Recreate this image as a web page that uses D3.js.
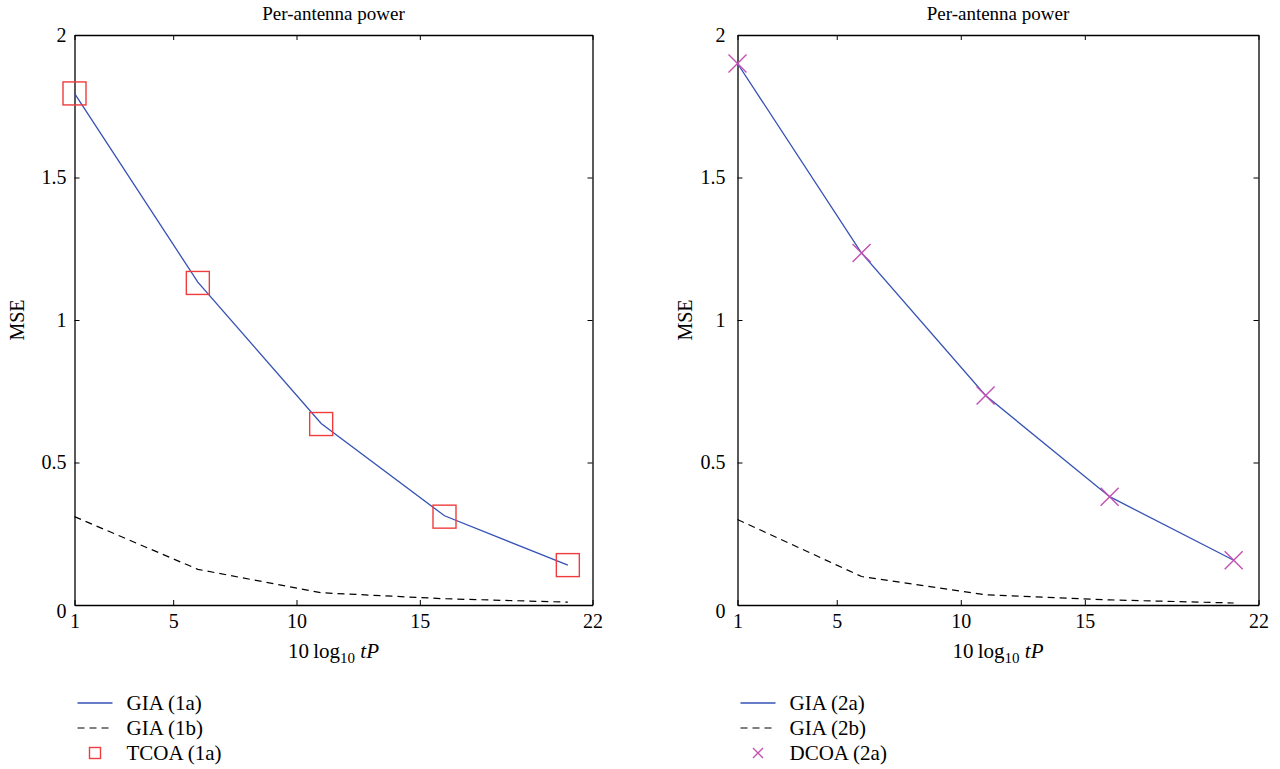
<!DOCTYPE html>
<html>
<head>
<meta charset="utf-8">
<script src="https://cdn.jsdelivr.net/npm/d3@7"></script>
<style>
  body { margin: 0; background: #fff; }
  svg text { font-family: "Liberation Serif", "DejaVu Serif", serif; fill: #000; }
</style>
</head>
<body>
<svg class="chart" width="1280" height="769"></svg>
<script>
const xValues = [1, 6, 11, 16, 21];
const xTicks = [1, 5, 10, 15, 22];
const yTicks = [0, 0.5, 1, 1.5, 2];

const gia1a = [1.795, 1.133, 0.637, 0.313, 0.14];
const gia1b = [0.31, 0.125, 0.043, 0.022, 0.01];
const tcoa1a = [1.795, 1.13, 0.635, 0.31, 0.14];

const gia2a = [1.9, 1.235, 0.735, 0.38, 0.157];
const gia2b = [0.3, 0.1, 0.036, 0.018, 0.007];
const dcoa2a = [1.9, 1.235, 0.735, 0.38, 0.157];

const blue = "#3652b5";
const red = "#f03c3c";
const magenta = "#c24fb3";

const svg = d3.select(".chart");

const render = (g, opts) => {
  const left = opts.left;
  const right = opts.right;
  const top = 35;
  const bottom = 605;

  const x = d3.scaleLinear().domain([1, 22]).range([left, right]);
  const y = d3.scaleLinear().domain([0, 2]).range([bottom, top]);

  g.append("text")
    .attr("x", (left + right) / 2)
    .attr("y", 20)
    .attr("text-anchor", "middle")
    .attr("font-size", "19px")
    .text("Per-antenna power");

  // axes, ticks drawn inward on all four sides
  g.append("g")
    .attr("transform", "translate(0," + bottom + ")")
    .call(d3.axisBottom(x).tickValues(xTicks).tickSize(-5).tickSizeOuter(0).tickPadding(9));
  g.append("g")
    .attr("transform", "translate(0," + top + ")")
    .call(d3.axisTop(x).tickValues(xTicks).tickSize(-5).tickSizeOuter(0).tickFormat(""));
  const yAxis = g.append("g")
    .attr("transform", "translate(" + left + ",0)")
    .call(d3.axisLeft(y).tickValues(yTicks).tickSize(-5).tickSizeOuter(0).tickPadding(opts.yPad).tickFormat(d3.format("")));
  g.append("g")
    .attr("transform", "translate(" + right + ",0)")
    .call(d3.axisRight(y).tickValues(yTicks).tickSize(-5).tickSizeOuter(0).tickFormat(""));

  g.selectAll(".domain").attr("stroke", "#000").attr("stroke-width", 1.3);
  g.selectAll(".tick line").attr("stroke", "#000");
  g.selectAll(".tick text")
    .attr("font-size", "20px")
    .attr("fill", "#000");
  yAxis.selectAll(".tick text").filter((d) => d === 0).attr("dy", "0.62em");

  // y label
  g.append("text")
    .attr("transform", "translate(" + opts.ylabelX + "," + (top + bottom) / 2 + ") rotate(-90)")
    .attr("text-anchor", "middle")
    .attr("font-size", "20px")
    .text("MSE");

  // x label: 10 log10 tP
  const xl = g.append("text")
    .attr("x", (left + right) / 2)
    .attr("y", 658)
    .attr("text-anchor", "middle")
    .attr("font-size", "21px");
  xl.append("tspan").text("10\u2009log");
  xl.append("tspan").attr("font-size", "15px").attr("dy", 5).text("10");
  xl.append("tspan").attr("dy", -5).attr("font-style", "italic").text(" tP");

  const line = d3.line().x((d) => x(d.x)).y((d) => y(d.y));
  const pts = (vals) => vals.map((v, i) => ({ x: xValues[i], y: v }));

  g.append("path")
    .datum(pts(opts.solid))
    .attr("fill", "none")
    .attr("stroke", blue)
    .attr("stroke-width", 1.3)
    .attr("d", line);

  g.append("path")
    .datum(pts(opts.dashed))
    .attr("fill", "none")
    .attr("stroke", "#000")
    .attr("stroke-width", 1.2)
    .attr("stroke-dasharray", "7,5")
    .attr("d", line);

  const marks = g.append("g");
  pts(opts.markers).forEach((d) => {
    drawMarker(marks, opts.marker, x(d.x), y(d.y), opts.marker === "square" ? 23 : 18);
  });

  // legend
  const legend = g.append("g");
  const lx0 = left + 3;
  const lx1 = left + 38;
  const rows = [703, 728, 753];
  legend.append("line")
    .attr("x1", lx0).attr("x2", lx1).attr("y1", rows[0]).attr("y2", rows[0])
    .attr("stroke", blue).attr("stroke-width", 1.3);
  legend.append("line")
    .attr("x1", lx0).attr("x2", lx1).attr("y1", rows[1]).attr("y2", rows[1])
    .attr("stroke", "#000").attr("stroke-width", 1.2).attr("stroke-dasharray", "7,5");
  drawMarker(legend, opts.marker, (lx0 + lx1) / 2, rows[2], opts.marker === "square" ? 11 : 10);

  legend.selectAll("text.lab")
    .data(opts.labels)
    .enter()
    .append("text")
    .attr("class", "lab")
    .attr("x", left + 52)
    .attr("y", (d, i) => rows[i])
    .attr("dy", "0.35em")
    .attr("font-size", "21px")
    .text((d) => d);
};

function drawMarker(g, type, cx, cy, s) {
  if (type === "square") {
    g.append("rect")
      .attr("x", cx - s / 2).attr("y", cy - s / 2)
      .attr("width", s).attr("height", s)
      .attr("fill", "none").attr("stroke", red).attr("stroke-width", 1.4);
  } else {
    const h = s / 2;
    g.append("path")
      .attr("d", "M" + (cx - h) + "," + (cy - h) + "L" + (cx + h) + "," + (cy + h) +
        "M" + (cx - h) + "," + (cy + h) + "L" + (cx + h) + "," + (cy - h))
      .attr("fill", "none").attr("stroke", magenta).attr("stroke-width", 1.4);
  }
}

render(svg.append("g"), {
  left: 74.5,
  right: 592.5,
  yPad: 8,
  ylabelX: 24,
  solid: gia1a,
  dashed: gia1b,
  markers: tcoa1a,
  marker: "square",
  labels: ["GIA (1a)", "GIA (1b)", "TCOA (1a)"],
});

render(svg.append("g"), {
  left: 737.5,
  right: 1258.5,
  yPad: 12,
  ylabelX: 692,
  solid: gia2a,
  dashed: gia2b,
  markers: dcoa2a,
  marker: "cross",
  labels: ["GIA (2a)", "GIA (2b)", "DCOA (2a)"],
});
</script>
</body>
</html>
